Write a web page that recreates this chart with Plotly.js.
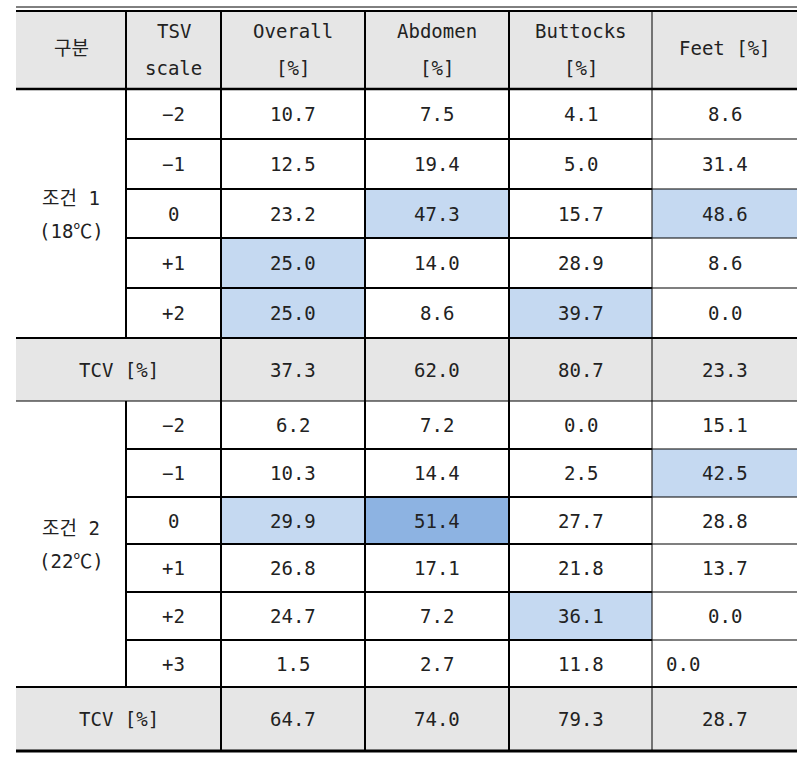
<!DOCTYPE html>
<html>
<head>
<meta charset="utf-8">
<script src="https://cdn.plot.ly/plotly-3.0.1.min.js"></script>
<style>html,body{margin:0;padding:0;background:#fff;}#chart{width:810px;height:761px;}</style>
</head>
<body>
<div id="chart"></div>
<script>
// ---- data ----
const headerLine1 = ['구분', 'TSV', 'Overall', 'Abdomen', 'Buttocks', 'Feet [%]'];
const headerLine2 = ['', 'scale', '[%]', '[%]', '[%]', ''];

const group1Label = '조건 1';
const group1Temp = '(18℃)';
const tsvScale1 = ['−2', '−1', '0', '+1', '+2'];
const overall1 = [10.7, 12.5, 23.2, 25.0, 25.0];
const abdomen1 = [7.5, 19.4, 47.3, 14.0, 8.6];
const buttocks1 = [4.1, 5.0, 15.7, 28.9, 39.7];
const feet1 = [8.6, 31.4, 48.6, 8.6, 0.0];
const tcv1 = [37.3, 62.0, 80.7, 23.3];
// highlight level per cell (0 none, 1 light, 2 strong), rows x [overall, abdomen, buttocks, feet]
const highlight1 = [[0,0,0,0],[0,0,0,0],[0,1,0,1],[1,0,0,0],[1,0,1,0]];

const group2Label = '조건 2';
const group2Temp = '(22℃)';
const tsvScale2 = ['−2', '−1', '0', '+1', '+2', '+3'];
const overall2 = [6.2, 10.3, 29.9, 26.8, 24.7, 1.5];
const abdomen2 = [7.2, 14.4, 51.4, 17.1, 7.2, 2.7];
const buttocks2 = [0.0, 2.5, 27.7, 21.8, 36.1, 11.8];
const feet2 = [15.1, 42.5, 28.8, 13.7, 0.0, 0.0];
const tcv2 = [64.7, 74.0, 79.3, 28.7];
const highlight2 = [[0,0,0,0],[0,0,0,1],[1,2,0,0],[0,0,0,0],[0,0,1,0],[0,0,0,0]];

const tcvLabel = 'TCV [%]';

// ---- layout geometry (pixel-like axis units) ----
const colEdges = [16, 126, 221, 365, 509, 652, 797];
const headerEdges = [11, 89];
const g1Edges = [89, 139, 189, 238, 288, 338];
const tcv1Edges = [338, 401];
const g2Edges = [401, 449, 497, 544, 592, 640, 687];
const tcv2Edges = [687, 751];

const GRAY = '#e6e6e6', LIGHT = '#c5d9f1', STRONG = '#8db3e2', INK = '#222222';
const FONT = {family: 'DejaVu Sans Mono, Noto Sans CJK KR, monospace', size: 19, color: INK};

const shapes = [];
const annotations = [];
const left = colEdges[0], right = colEdges[6];

function rect(x0, x1, y0, y1, fill) {
  shapes.push({type: 'rect', xref: 'x', yref: 'y', x0, x1, y0, y1, fillcolor: fill, line: {width: 0}, layer: 'below'});
}
function hline(y, x0, x1, w) {
  shapes.push({type: 'line', xref: 'x', yref: 'y', x0, x1, y0: y, y1: y, line: {color: '#000', width: w}});
}
function vline(x, y0, y1, w) {
  shapes.push({type: 'line', xref: 'x', yref: 'y', x0: x, x1: x, y0, y1, line: {color: '#000', width: w}});
}
function text(x, y, t, anchor) {
  annotations.push({xref: 'x', yref: 'y', x, y, text: t, showarrow: false, font: FONT,
    xanchor: anchor || 'center', yanchor: 'middle'});
}
const mid = (a, b) => (a + b) / 2;
const vWidth = i => (i === 5 ? 1 : 2);

// header
rect(left, right, headerEdges[0], headerEdges[1], GRAY);
hline(7, left, right, 1);
hline(headerEdges[0], left, right, 2);
hline(headerEdges[1], left, right, 2.5);
for (let i = 1; i <= 5; i++) vline(colEdges[i], headerEdges[0], headerEdges[1], vWidth(i));
for (let c = 0; c < 6; c++) {
  const cx = mid(colEdges[c], colEdges[c + 1]);
  if (headerLine2[c]) {
    text(cx, 31, headerLine1[c]);
    text(cx, 68, headerLine2[c]);
  } else {
    text(cx, mid(headerEdges[0], headerEdges[1]) - 2, headerLine1[c]);
  }
}

function drawGroup(edges, label, temp, scale, cols, hl, tcv, tcvEdges, bottomWidth) {
  const n = scale.length;
  // highlights
  for (let r = 0; r < n; r++) for (let c = 0; c < 4; c++) {
    if (hl[r][c]) rect(colEdges[c + 2], colEdges[c + 3], edges[r], edges[r + 1], hl[r][c] === 2 ? STRONG : LIGHT);
  }
  // interior horizontal lines
  for (let r = 1; r < n; r++) {
    hline(edges[r], colEdges[1], colEdges[5], 2);
    hline(edges[r], colEdges[5], right, 1.2);
  }
  for (let i = 1; i <= 5; i++) vline(colEdges[i], edges[0], edges[n], vWidth(i));
  // group label
  const gy = mid(edges[0], edges[n]);
  text(mid(colEdges[0], colEdges[1]), gy - 16, label);
  text(mid(colEdges[0], colEdges[1]), gy + 17, temp);
  for (let r = 0; r < n; r++) {
    const cy = mid(edges[r], edges[r + 1]);
    text(mid(colEdges[1], colEdges[2]), cy, scale[r]);
    for (let c = 0; c < 4; c++) {
      const v = cols[c][r].toFixed(1);
      if (c === 3 && r === n - 1 && n === 6) text(colEdges[5] + 12, cy, v, 'left');
      else text(mid(colEdges[c + 2], colEdges[c + 3]), cy, v);
    }
  }
  // TCV row
  rect(left, right, tcvEdges[0], tcvEdges[1], GRAY);
  hline(tcvEdges[0], left, right, 2);
  hline(tcvEdges[1], left, right, bottomWidth);
  for (let i = 2; i <= 5; i++) vline(colEdges[i], tcvEdges[0], tcvEdges[1], vWidth(i));
  const ty = mid(tcvEdges[0], tcvEdges[1]);
  text(mid(colEdges[0], colEdges[2]), ty, tcvLabel);
  for (let c = 0; c < 4; c++) text(mid(colEdges[c + 2], colEdges[c + 3]), ty, tcv[c].toFixed(1));
}

drawGroup(g1Edges, group1Label, group1Temp, tsvScale1, [overall1, abdomen1, buttocks1, feet1], highlight1, tcv1, tcv1Edges, 1.2);
drawGroup(g2Edges, group2Label, group2Temp, tsvScale2, [overall2, abdomen2, buttocks2, feet2], highlight2, tcv2, tcv2Edges, 3);

const layout = {
  width: 810, height: 761,
  margin: {l: 0, r: 0, t: 0, b: 0, pad: 0},
  paper_bgcolor: '#ffffff', plot_bgcolor: '#ffffff',
  xaxis: {range: [0, 810], visible: false, fixedrange: true},
  yaxis: {range: [761, 0], visible: false, fixedrange: true},
  showlegend: false,
  shapes, annotations
};
Plotly.newPlot('chart', [{type: 'scatter', x: [], y: [], mode: 'markers', hoverinfo: 'skip'}], layout, {staticPlot: true, displayModeBar: false});
</script>
</body>
</html>
